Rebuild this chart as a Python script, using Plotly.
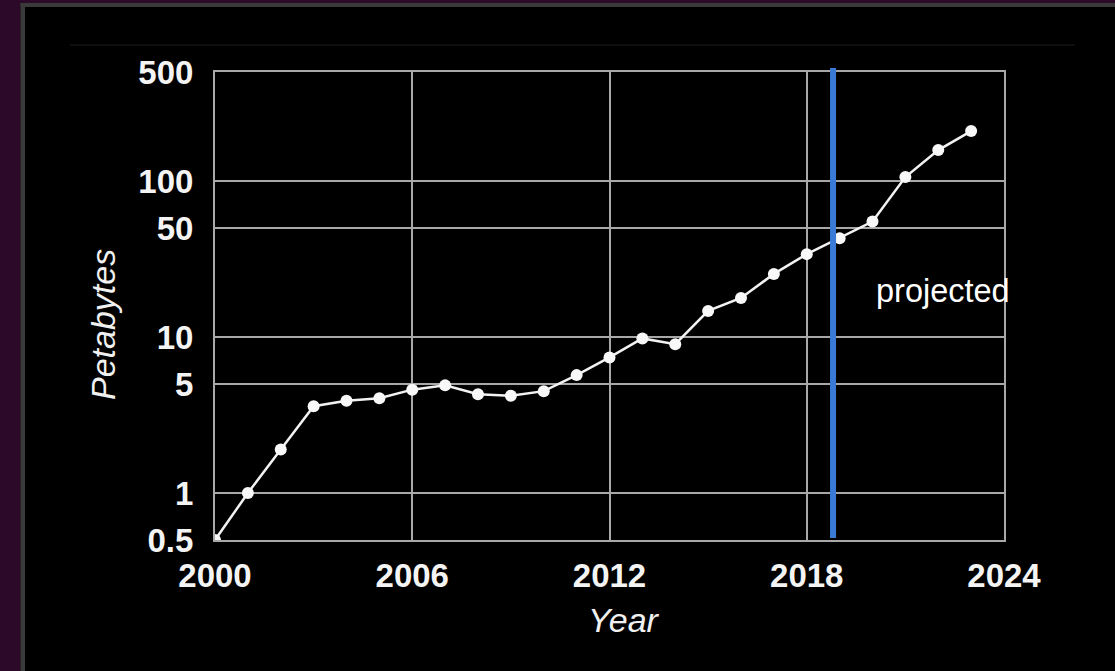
import plotly.graph_objects as go

years = list(range(2000, 2024))
petabytes = [0.5, 1.0, 1.9, 3.6, 3.9, 4.05, 4.6, 4.9, 4.3, 4.2, 4.5, 5.7, 7.4,
             9.8, 9.0, 14.7, 17.8, 25.4, 34, 43, 55, 106, 158, 209]
x_ticks = [2000, 2006, 2012, 2018, 2024]
y_ticks = [0.5, 1, 5, 10, 50, 100, 500]
y_tick_text = ["0.5", "1", "5", "10", "50", "100", "500"]
projection_start = 2018.8

W, H = 1115, 671
L, R, T, B = 215, 1004, 72, 540


def px(x):
    return (x - L) / (R - L)


def py(y):
    return (B - y) / (B - T)


GRID = "#a8a8a8"
FONT = "Liberation Sans, Arial, sans-serif"

fig = go.Figure()
fig.add_trace(go.Scatter(
    x=years, y=petabytes, mode="lines+markers",
    line=dict(color="#f2f2f2", width=2.5),
    marker=dict(color="#f8f8f8", size=12),
    showlegend=False,
))

shapes = [
    dict(type="rect", xref="paper", yref="paper", x0=px(-5), x1=px(20.5), y0=py(680), y1=py(-5),
         fillcolor="#2c0829", line_width=0, layer="above"),
    dict(type="rect", xref="paper", yref="paper", x0=px(-5), x1=px(1120), y0=py(3), y1=py(-5),
         fillcolor="#2c0829", line_width=0, layer="above"),
    dict(type="rect", xref="paper", yref="paper", x0=px(20.5), x1=px(25), y0=py(680), y1=py(3),
         fillcolor="#3a3a3a", line_width=0, layer="above"),
    dict(type="rect", xref="paper", yref="paper", x0=px(20.5), x1=px(1120), y0=py(7), y1=py(3),
         fillcolor="#3a3a3a", line_width=0, layer="above"),
    dict(type="line", xref="paper", yref="paper", x0=px(70), x1=px(1075), y0=py(45), y1=py(45),
         line=dict(color="#1c1c1c", width=1), layer="above"),
    dict(type="line", xref="x", yref="paper", x0=projection_start, x1=projection_start,
         y0=py(538), y1=py(68), line=dict(color="#3b7bd8", width=6), layer="above"),
]

annotations = [
    dict(text="Petabytes", xref="paper", yref="paper", x=px(103), y=py(325),
         showarrow=False, textangle=-90, xanchor="center", yanchor="middle",
         font=dict(family=FONT, size=34, color="#f0f0f0", style="italic")),
    dict(text="Year", xref="paper", yref="paper", x=px(624), y=py(620),
         showarrow=False, xanchor="center", yanchor="middle",
         font=dict(family=FONT, size=34, color="#f0f0f0", style="italic")),
    dict(text="projected", xref="paper", yref="paper", x=px(943), y=py(291),
         showarrow=False, xanchor="center", yanchor="middle",
         font=dict(family=FONT, size=32.5, color="#ffffff")),
]

fig.update_layout(
    width=W, height=H,
    margin=dict(l=L, r=W - R, t=T, b=H - B, pad=0),
    paper_bgcolor="#000000", plot_bgcolor="#000000",
    shapes=shapes, annotations=annotations,
    font=dict(family=FONT, color="#f4f4f4"),
)
fig.update_xaxes(
    range=[2000, 2024], tickvals=x_ticks, ticktext=[str(v) for v in x_ticks],
    showgrid=True, gridcolor=GRID, gridwidth=2,
    showline=True, linecolor=GRID, linewidth=2, mirror=True,
    zeroline=False, ticks="", ticklabelstandoff=5,
    tickfont=dict(family=FONT, size=33, color="#f4f4f4", weight="bold"),
)
fig.update_yaxes(
    type="log", range=[-0.30103, 2.69897], tickvals=y_ticks, ticktext=y_tick_text,
    showgrid=True, gridcolor=GRID, gridwidth=2,
    showline=True, linecolor=GRID, linewidth=2, mirror=True,
    zeroline=False, ticks="", ticklabelstandoff=13,
    tickfont=dict(family=FONT, size=33, color="#f4f4f4", weight="bold"),
)

fig.write_html("out.html")
